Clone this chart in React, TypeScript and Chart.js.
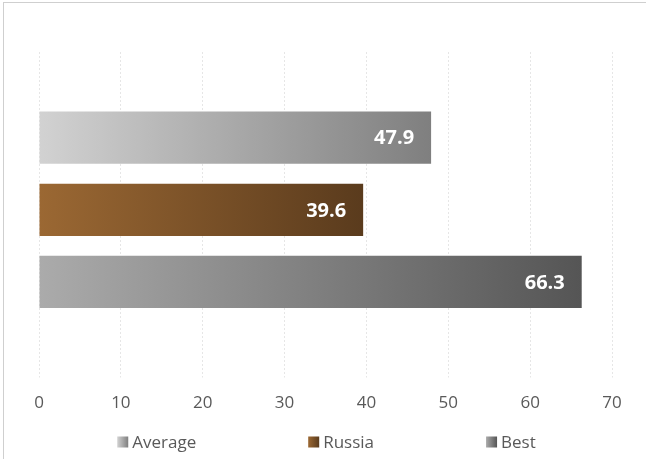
import React, { useEffect, useRef } from "react";
import { Chart, registerables } from "chart.js";

Chart.register(...registerables);

const categories = [""];
const seriesLabels = ["Average", "Russia", "Best"];
const seriesValues = [47.9, 39.6, 66.3];
const gradientStart = ["#d2d2d2", "#9b6833", "#ababab"];
const gradientEnd = ["#7f7f7f", "#5a3b1d", "#555555"];
const xMin = 0;
const xMax = 70;
const xStep = 10;

const FONT = "'Open Sans', 'DejaVu Sans', sans-serif";
const TEXT_COLOR = "#595959";

function makeGradient(i: number) {
  return (ctx: any) => {
    const chart = ctx.chart;
    if (!chart.chartArea || !chart.scales.x) return gradientEnd[i];
    const xs = chart.scales.x;
    const v = ctx.raw != null ? ctx.raw : seriesValues[i];
    const x0 = xs.getPixelForValue(0);
    const x1 = xs.getPixelForValue(v);
    const g = chart.ctx.createLinearGradient(x0, 0, x1, 0);
    g.addColorStop(0, gradientStart[i]);
    g.addColorStop(1, gradientEnd[i]);
    return g;
  };
}

const valueLabelPlugin = {
  id: "valueLabels",
  afterDatasetsDraw(chart: any) {
    const ctx = chart.ctx;
    ctx.save();
    ctx.font = `bold 20px ${FONT}`;
    ctx.fillStyle = "#ffffff";
    ctx.textAlign = "right";
    ctx.textBaseline = "middle";
    chart.data.datasets.forEach((ds: any, di: number) => {
      const meta = chart.getDatasetMeta(di);
      meta.data.forEach((bar: any, j: number) => {
        const v = ds.data[j];
        ctx.fillText(v.toFixed(1), bar.x - 17, bar.y + 1);
      });
    });
    ctx.restore();
  },
};

const customLegendPlugin = {
  id: "customLegend",
  afterDraw(chart: any) {
    const ctx = chart.ctx;
    ctx.save();
    ctx.font = `17px ${FONT}`;
    ctx.textBaseline = "middle";
    ctx.textAlign = "left";
    const box = 11;
    const gapBoxText = 4;
    const gapItems = 112;
    const widths = seriesLabels.map((l) => box + gapBoxText + ctx.measureText(l).width);
    const total = widths.reduce((a, b) => a + b, 0) + gapItems * (widths.length - 1);
    const cx = (chart.chartArea.left + chart.chartArea.right) / 2 + 1;
    let x = cx - total / 2;
    const y = 442;
    seriesLabels.forEach((l, i) => {
      const g = ctx.createLinearGradient(x, 0, x + box, 0);
      g.addColorStop(0, gradientStart[i]);
      g.addColorStop(1, gradientEnd[i]);
      ctx.fillStyle = g;
      ctx.fillRect(x, y - box / 2, box, box);
      ctx.fillStyle = TEXT_COLOR;
      ctx.fillText(l, x + box + gapBoxText, y + 1);
      x += widths[i] + gapItems;
    });
    ctx.restore();
  },
};

export default function App() {
  const ref = useRef<HTMLCanvasElement | null>(null);

  useEffect(() => {
    if (!ref.current) return;
    const chart = new Chart(ref.current, {
      type: "bar",
      data: {
        labels: categories,
        datasets: seriesLabels.map((label, i) => ({
          label,
          data: [seriesValues[i]],
          backgroundColor: makeGradient(i),
          borderWidth: 0,
          categoryPercentage: 0.686,
          barPercentage: 0.724,
        })),
      },
      options: {
        indexAxis: "y",
        animation: false,
        responsive: false,
        maintainAspectRatio: false,
        layout: { padding: { left: 39, right: 34, top: 52, bottom: 31 } },
        plugins: {
          legend: { display: false },
          tooltip: { enabled: false },
        },
        scales: {
          x: {
            type: "linear",
            min: xMin,
            max: xMax,
            ticks: {
              stepSize: xStep,
              padding: 15,
              color: TEXT_COLOR,
              font: { family: FONT, size: 17 },
            },
            grid: {
              color: "#e6e6e6",
              lineWidth: 1,
              tickLength: 10,
              tickBorderDash: [2, 2],
              drawTicks: true,
            },
            border: { display: false, dash: [2, 2] },
          },
          y: {
            display: false,
            grid: { display: false },
          },
        },
      },
      plugins: [valueLabelPlugin, customLegendPlugin],
    } as any);
    return () => chart.destroy();
  }, []);

  return (
    <div style={{ position: "absolute", left: 0, top: 0, width: 646, height: 459, background: "#fff", overflow: "hidden" }}>
      <div
        style={{
          position: "absolute",
          left: 3,
          top: 2,
          width: 643,
          height: 457,
          borderTop: "1px solid #cfcfcf",
          borderLeft: "1px solid #cfcfcf",
          boxSizing: "border-box",
        }}
      />
      <canvas ref={ref} width={646} height={459} style={{ position: "absolute", left: 0, top: 0, width: 646, height: 459 }} />
    </div>
  );
}
